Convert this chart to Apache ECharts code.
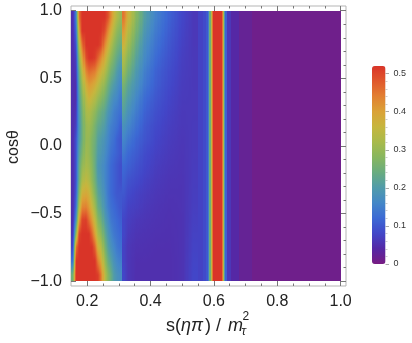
<!DOCTYPE html>
<html>
<head>
<meta charset="utf-8">
<title>s(ηπ) / m_τ² density</title>
<script src="https://cdn.jsdelivr.net/npm/echarts@6/dist/echarts.min.js"></script>
<style>
  html, body { margin: 0; padding: 0; background: #fff; }
  #chart { width: 412px; height: 343px; }
</style>
</head>
<body>
<div id="chart"></div>
<script>
// cosθ row centres, top to bottom (rows of the grids below follow this order)
const cosRows = [0.95, 0.85, 0.75, 0.65, 0.55, 0.45, 0.35, 0.25, 0.15, 0.05,
  -0.05, -0.15, -0.25, -0.35, -0.45, -0.55, -0.65, -0.75, -0.85, -0.95]

// region below the KK threshold: 0.15 .. 0.31
const xEdgesA = [0.1497, 0.16, 0.17, 0.18, 0.19, 0.2, 0.21, 0.22, 0.23, 0.24, 0.25, 0.26, 0.27, 0.28, 0.29, 0.3, 0.31]
const gridA = [
  [0.05, 0.15, 0.45, 0.52, 0.52, 0.52, 0.52, 0.52, 0.52, 0.52, 0.52, 0.49, 0.43, 0.37, 0.33, 0.30],
  [0.05, 0.12, 0.39, 0.52, 0.52, 0.52, 0.52, 0.52, 0.52, 0.52, 0.49, 0.43, 0.38, 0.33, 0.29, 0.27],
  [0.05, 0.09, 0.33, 0.45, 0.52, 0.52, 0.52, 0.52, 0.52, 0.50, 0.43, 0.38, 0.33, 0.29, 0.26, 0.24],
  [0.05, 0.07, 0.28, 0.39, 0.49, 0.52, 0.52, 0.51, 0.47, 0.43, 0.38, 0.33, 0.29, 0.26, 0.23, 0.21],
  [0.05, 0.06, 0.24, 0.34, 0.43, 0.46, 0.45, 0.44, 0.40, 0.37, 0.33, 0.29, 0.25, 0.23, 0.20, 0.18],
  [0.05, 0.05, 0.22, 0.30, 0.38, 0.41, 0.40, 0.38, 0.35, 0.32, 0.29, 0.25, 0.22, 0.20, 0.18, 0.16],
  [0.05, 0.05, 0.20, 0.27, 0.34, 0.37, 0.35, 0.33, 0.30, 0.28, 0.25, 0.22, 0.19, 0.17, 0.16, 0.14],
  [0.05, 0.06, 0.19, 0.25, 0.32, 0.33, 0.31, 0.29, 0.26, 0.24, 0.22, 0.19, 0.17, 0.15, 0.14, 0.13],
  [0.05, 0.07, 0.18, 0.24, 0.30, 0.31, 0.29, 0.26, 0.23, 0.22, 0.20, 0.17, 0.15, 0.14, 0.13, 0.11],
  [0.05, 0.09, 0.19, 0.24, 0.30, 0.30, 0.27, 0.25, 0.21, 0.20, 0.18, 0.16, 0.14, 0.13, 0.11, 0.10],
  [0.05, 0.09, 0.21, 0.26, 0.31, 0.30, 0.27, 0.24, 0.20, 0.19, 0.17, 0.15, 0.13, 0.12, 0.11, 0.10],
  [0.05, 0.09, 0.23, 0.29, 0.32, 0.31, 0.28, 0.24, 0.19, 0.18, 0.16, 0.14, 0.12, 0.11, 0.10, 0.09],
  [0.05, 0.09, 0.24, 0.32, 0.35, 0.33, 0.29, 0.25, 0.20, 0.19, 0.16, 0.14, 0.12, 0.11, 0.10, 0.09],
  [0.05, 0.10, 0.27, 0.37, 0.39, 0.37, 0.32, 0.27, 0.22, 0.20, 0.17, 0.14, 0.12, 0.11, 0.10, 0.10],
  [0.05, 0.12, 0.32, 0.43, 0.44, 0.41, 0.36, 0.31, 0.24, 0.22, 0.18, 0.15, 0.13, 0.12, 0.11, 0.10],
  [0.05, 0.17, 0.40, 0.50, 0.51, 0.46, 0.41, 0.35, 0.28, 0.25, 0.20, 0.17, 0.14, 0.13, 0.12, 0.11],
  [0.06, 0.28, 0.50, 0.52, 0.52, 0.52, 0.47, 0.40, 0.32, 0.29, 0.23, 0.19, 0.16, 0.14, 0.13, 0.12],
  [0.08, 0.45, 0.52, 0.52, 0.52, 0.52, 0.52, 0.47, 0.37, 0.34, 0.26, 0.21, 0.18, 0.16, 0.14, 0.13],
  [0.13, 0.52, 0.52, 0.52, 0.52, 0.52, 0.52, 0.52, 0.44, 0.39, 0.30, 0.24, 0.21, 0.18, 0.16, 0.15],
  [0.25, 0.52, 0.52, 0.52, 0.52, 0.52, 0.52, 0.52, 0.51, 0.45, 0.34, 0.28, 0.24, 0.20, 0.18, 0.17]
]

// region above the threshold: 0.31 .. 0.55
const xEdgesB = [0.31, 0.32, 0.34, 0.37, 0.40, 0.44, 0.48, 0.52, 0.55]
const gridB = [
  [0.45, 0.37, 0.28, 0.20, 0.15, 0.11, 0.08, 0.062],
  [0.41, 0.34, 0.26, 0.185, 0.14, 0.104, 0.077, 0.062],
  [0.37, 0.31, 0.235, 0.17, 0.13, 0.098, 0.074, 0.062],
  [0.33, 0.28, 0.215, 0.16, 0.12, 0.093, 0.071, 0.063],
  [0.30, 0.25, 0.195, 0.145, 0.11, 0.087, 0.069, 0.063],
  [0.26, 0.22, 0.18, 0.135, 0.105, 0.083, 0.067, 0.063],
  [0.23, 0.20, 0.16, 0.12, 0.097, 0.078, 0.065, 0.064],
  [0.21, 0.18, 0.145, 0.11, 0.09, 0.074, 0.063, 0.064],
  [0.18, 0.16, 0.13, 0.10, 0.083, 0.07, 0.062, 0.065],
  [0.16, 0.14, 0.115, 0.095, 0.078, 0.067, 0.06, 0.065],
  [0.14, 0.12, 0.105, 0.085, 0.073, 0.064, 0.059, 0.066],
  [0.12, 0.11, 0.095, 0.08, 0.068, 0.061, 0.058, 0.067],
  [0.11, 0.095, 0.085, 0.073, 0.064, 0.058, 0.057, 0.068],
  [0.10, 0.085, 0.075, 0.067, 0.06, 0.056, 0.056, 0.069],
  [0.09, 0.075, 0.07, 0.062, 0.057, 0.054, 0.056, 0.07],
  [0.08, 0.07, 0.062, 0.058, 0.055, 0.053, 0.055, 0.072],
  [0.08, 0.065, 0.057, 0.055, 0.053, 0.052, 0.055, 0.074],
  [0.075, 0.06, 0.054, 0.053, 0.051, 0.051, 0.055, 0.076],
  [0.075, 0.06, 0.051, 0.051, 0.05, 0.05, 0.055, 0.078],
  [0.08, 0.06, 0.05, 0.05, 0.05, 0.05, 0.055, 0.08]
]

// resonance band and tail: no cosθ dependence, one value per column
const xEdgesC = [0.55, 0.565, 0.575, 0.582, 0.586, 0.59, 0.594, 0.597, 0.626, 0.629, 0.632, 0.636, 0.641, 0.655, 0.68, 0.72, 1.0]
const valuesC = [0.075, 0.085, 0.10, 0.15, 0.25, 0.35, 0.45, 0.52, 0.45, 0.33, 0.20, 0.11, 0.06, 0.04, 0.022, 0.01]

// ticks
const xMajor = [0.2, 0.4, 0.6, 0.8, 1.0]
const xMinor = [0.25, 0.3, 0.35, 0.45, 0.5, 0.55, 0.65, 0.7, 0.75, 0.85, 0.9, 0.95]
const yMajor = [-1, -0.5, 0, 0.5, 1]
const yMinor = [-0.9, -0.8, -0.7, -0.6, -0.4, -0.3, -0.2, -0.1, 0.1, 0.2, 0.3, 0.4, 0.6, 0.7, 0.8, 0.9]
const barMajor = [0, 0.1, 0.2, 0.3, 0.4, 0.5]
const barMinor = [0.02, 0.04, 0.06, 0.08, 0.12, 0.14, 0.16, 0.18, 0.22, 0.24, 0.26, 0.28, 0.32, 0.34, 0.36, 0.38, 0.42, 0.44, 0.46, 0.48]

const palette = ['#781c82', '#5528a5', '#4246c8', '#3c69d4', '#4487c8', '#509baa', '#69ac80',
  '#87b65f', '#a8ba4b', '#c6b63e', '#daa237', '#e28032', '#e0582c', '#d93428']

const FONT = '"Liberation Sans", Arial, sans-serif'
const X_MIN = 0.149, X_MAX = 1.017
const Y_MIN = -1.035, Y_MAX = 1.035
const V_MAX = 0.52

// patches: [x0, x1, cosTop, cosBottom, vTopLeft, vTopRight, vBottomLeft, vBottomRight]
// corners sit on the grid's cell centres, so the shading blends like a density plot
const cells = []
function addGrid(xEdges, grid) {
  const nc = xEdges.length - 1
  const nr = cosRows.length
  const xs = [xEdges[0]]
  for (let j = 0; j < nc; j++) xs.push((xEdges[j] + xEdges[j + 1]) / 2)
  xs.push(xEdges[nc])
  const cs = [1].concat(cosRows, [-1])
  const val = (i, j) => grid[Math.min(Math.max(i, 0), nr - 1)][Math.min(Math.max(j, 0), nc - 1)]
  for (let q = 0; q < xs.length - 1; q++) {
    for (let r = 0; r < cs.length - 1; r++) {
      cells.push([xs[q], xs[q + 1], cs[r], cs[r + 1],
        val(r - 1, q - 1), val(r - 1, q), val(r, q - 1), val(r, q)])
    }
  }
}
addGrid(xEdgesA, gridA)
addGrid(xEdgesB, gridB)
valuesC.forEach((v, j) => cells.push([xEdgesC[j], xEdgesC[j + 1], 1, -1, v, v, v, v]))

const toColor = v => echarts.color.lerp(Math.min(Math.max(v / V_MAX, 0), 1), palette)

function renderCell(params, api) {
  const p0 = api.coord([api.value(0), api.value(2)])
  const p1 = api.coord([api.value(1), api.value(3)])
  const tl = api.value(4), tr = api.value(5), bl = api.value(6), br = api.value(7)
  const w = p1[0] - p0[0]
  // snap to whole pixels so neighbouring patches meet without seams
  const y0 = Math.round(p0[1]), y1 = Math.round(p1[1])
  const k = (tl === tr && bl === br) ? 1 : Math.max(1, Math.ceil(w / 1.5))
  const children = []
  for (let s = 0; s < k; s++) {
    const xa = Math.round(p0[0] + w * s / k)
    const xb = Math.round(p0[0] + w * (s + 1) / k)
    if (xb <= xa || y1 <= y0) continue
    const t = (s + 0.5) / k
    const top = tl + (tr - tl) * t
    const bottom = bl + (br - bl) * t
    let fill
    if (top === bottom) {
      fill = toColor(top)
    } else {
      const stops = []
      for (let n = 0; n <= 4; n++) {
        stops.push({ offset: n / 4, color: toColor(top + (bottom - top) * n / 4) })
      }
      fill = { type: 'linear', x: 0, y: 0, x2: 0, y2: 1, colorStops: stops }
    }
    children.push({
      type: 'rect',
      shape: { x: xa, y: y0, width: xb - xa, height: y1 - y0 },
      style: { fill }
    })
  }
  return { type: 'group', children }
}

const fmtSigned = v => (v < 0 ? '\u2212' : '') + Math.abs(v).toFixed(1)
const tickLine = { color: '#777', width: 1 }
const noLine = { show: false, onZero: false }

function frameAxis(extra) {
  return Object.assign({ type: 'value', splitLine: { show: false }, axisLine: noLine }, extra)
}

const chart = echarts.init(document.getElementById('chart'), null, { renderer: 'canvas' })

chart.setOption({
  animation: false,
  backgroundColor: '#fff',
  grid: [
    { left: 71, top: 6, width: 275, height: 280, show: true, borderColor: '#b5b5b5', borderWidth: 1, backgroundColor: 'transparent' },
    { left: 372, top: 66, width: 13.5, height: 198 }
  ],
  xAxis: [
    frameAxis({ min: X_MIN, max: X_MAX, position: 'bottom',
      axisTick: { inside: true, length: 5, customValues: xMajor, lineStyle: tickLine },
      axisLabel: { customValues: xMajor, margin: 8, fontSize: 16, color: '#222', fontFamily: FONT, formatter: v => v.toFixed(1) } }),
    frameAxis({ min: X_MIN, max: X_MAX, position: 'bottom',
      axisTick: { inside: true, length: 2.5, customValues: xMinor, lineStyle: tickLine }, axisLabel: { show: false } }),
    frameAxis({ min: X_MIN, max: X_MAX, position: 'top',
      axisTick: { inside: true, length: 5, customValues: xMajor, lineStyle: tickLine }, axisLabel: { show: false } }),
    frameAxis({ min: X_MIN, max: X_MAX, position: 'top',
      axisTick: { inside: true, length: 2.5, customValues: xMinor, lineStyle: tickLine }, axisLabel: { show: false } }),
    { gridIndex: 1, type: 'value', show: false, min: 0, max: 1 }
  ],
  yAxis: [
    frameAxis({ min: Y_MIN, max: Y_MAX, position: 'left',
      axisTick: { inside: true, length: 5, customValues: yMajor, lineStyle: tickLine },
      axisLabel: { customValues: yMajor, margin: 9, fontSize: 16, color: '#222', fontFamily: FONT,
        padding: [5, 0, 0, 0], formatter: fmtSigned } }),
    frameAxis({ min: Y_MIN, max: Y_MAX, position: 'left',
      axisTick: { inside: true, length: 2.5, customValues: yMinor, lineStyle: tickLine }, axisLabel: { show: false } }),
    frameAxis({ min: Y_MIN, max: Y_MAX, position: 'right',
      axisTick: { inside: true, length: 5, customValues: yMajor, lineStyle: tickLine }, axisLabel: { show: false } }),
    frameAxis({ min: Y_MIN, max: Y_MAX, position: 'right',
      axisTick: { inside: true, length: 2.5, customValues: yMinor, lineStyle: tickLine }, axisLabel: { show: false } }),
    frameAxis({ gridIndex: 1, min: 0, max: V_MAX, position: 'right',
      axisTick: { length: 3.5, customValues: barMajor, lineStyle: { color: '#aaa' } },
      axisLabel: { customValues: barMajor, margin: 8, fontSize: 9, color: '#333', fontFamily: FONT,
        formatter: v => (v === 0 ? '0' : v.toFixed(1)) } }),
    frameAxis({ gridIndex: 1, min: 0, max: V_MAX, position: 'right',
      axisTick: { length: 2, customValues: barMinor, lineStyle: { color: '#ccc' } }, axisLabel: { show: false } })
  ],
  visualMap: {
    type: 'continuous',
    min: 0,
    max: V_MAX,
    dimension: 4,
    seriesIndex: 0,
    calculable: false,
    hoverLink: false,
    orient: 'vertical',
    left: 372,
    top: 66,
    padding: 0,
    itemWidth: 13.5,
    itemHeight: 198,
    text: null,
    showLabel: false,
    inRange: { color: palette }
  },
  series: [{
    type: 'custom',
    xAxisIndex: 0,
    yAxisIndex: 0,
    renderItem: renderCell,
    encode: { x: [0, 1], y: [2, 3] },
    data: cells,
    silent: true
  }],
  graphic: [
    { type: 'text', x: 14, y: 147, rotation: Math.PI / 2,
      style: { text: 'cosθ', fontSize: 16, fontFamily: FONT, fill: '#222', align: 'center', verticalAlign: 'middle' } },
    { type: 'text', x: 166, y: 326,
      style: {
        text: '{n|s(}{i|ηπ}{g|) / }{i|m}',
        align: 'left', verticalAlign: 'middle', fill: '#222',
        rich: {
          n: { fontSize: 18, fontFamily: FONT, fill: '#222' },
          g: { fontSize: 18, fontFamily: FONT, fill: '#222', padding: [0, 2, 0, 2] },
          i: { fontSize: 18, fontFamily: FONT, fontStyle: 'italic', fill: '#222' }
        }
      } },
    { type: 'text', x: 242.5, y: 316.5,
      style: { text: '2', fontSize: 12, fontFamily: FONT, fill: '#222', align: 'left', verticalAlign: 'middle' } },
    { type: 'text', x: 241.5, y: 332,
      style: { text: 'τ', fontSize: 12, fontFamily: FONT, fontStyle: 'italic', fill: '#222', align: 'left', verticalAlign: 'middle' } }
  ]
})
</script>
</body>
</html>
